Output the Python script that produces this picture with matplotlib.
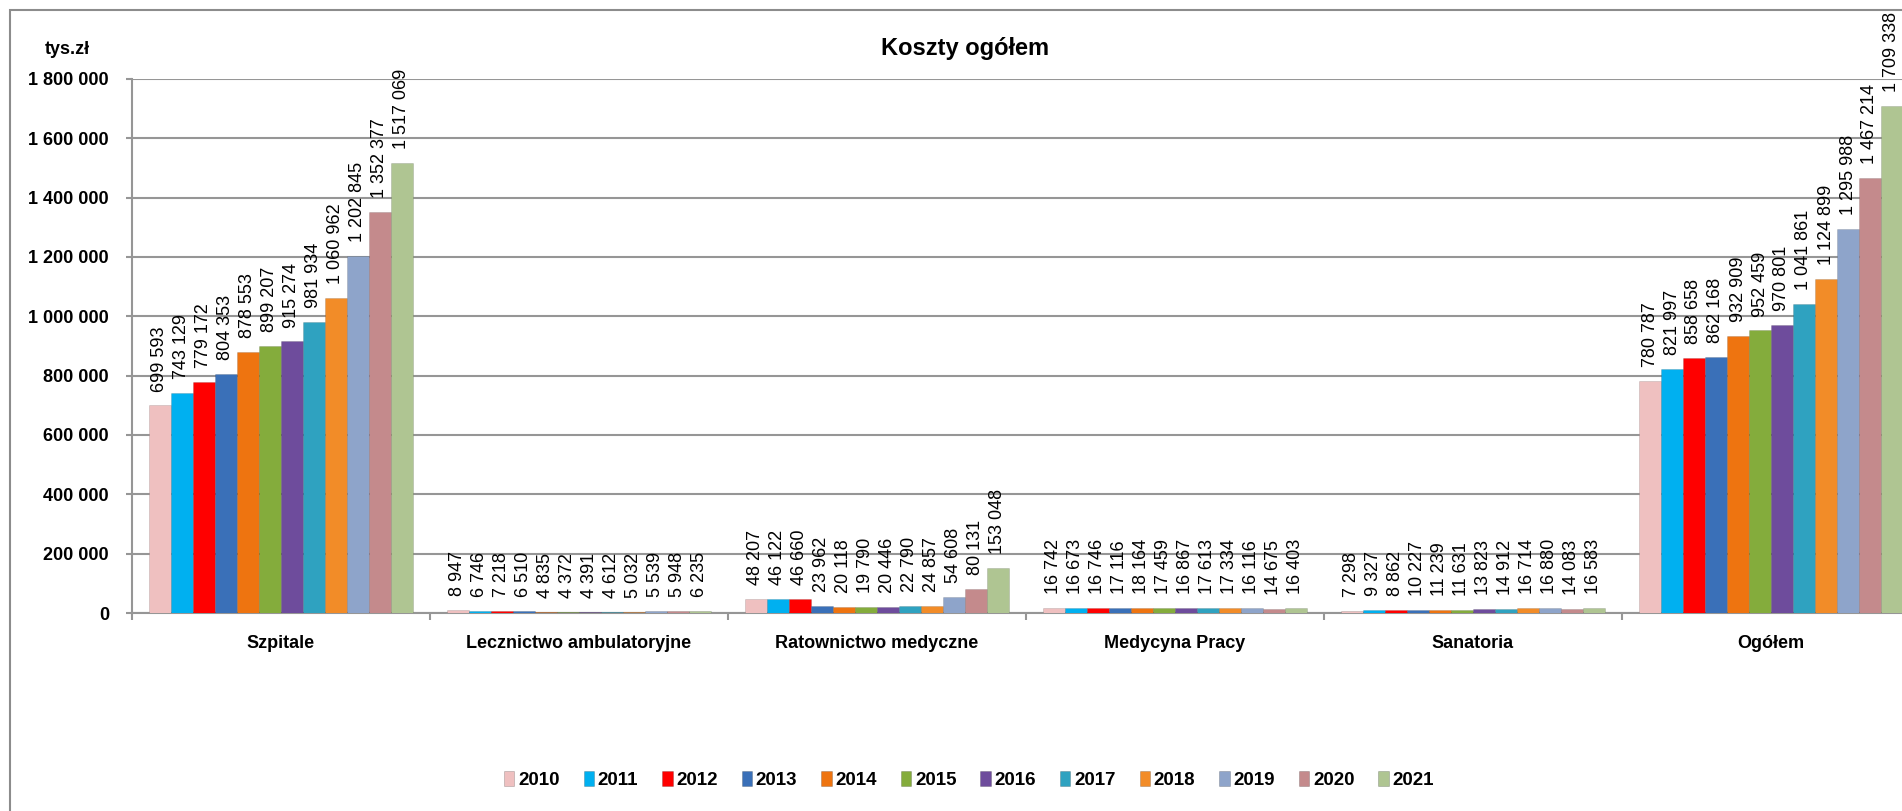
import numpy as np
import matplotlib
matplotlib.use("Agg")
import matplotlib.pyplot as plt
from matplotlib.patches import Rectangle, Patch
from matplotlib.ticker import FixedLocator, FuncFormatter

categories = ['Szpitale', 'Lecznictwo ambulatoryjne', 'Ratownictwo medyczne',
              'Medycyna Pracy', 'Sanatoria', 'Ogółem']
years = ['2010', '2011', '2012', '2013', '2014', '2015',
         '2016', '2017', '2018', '2019', '2020', '2021']

szpitale = [699593, 743129, 779172, 804353, 878553, 899207,
            915274, 981934, 1060962, 1202845, 1352377, 1517069]
lecznictwo = [8947, 6746, 7218, 6510, 4835, 4372,
              4391, 4612, 5032, 5539, 5948, 6235]
ratownictwo = [48207, 46122, 46660, 23962, 20118, 19790,
               20446, 22790, 24857, 54608, 80131, 153048]
medycyna = [16742, 16673, 16746, 17116, 18164, 17459,
            16867, 17613, 17334, 16116, 14675, 16403]
sanatoria = [7298, 9327, 8862, 10227, 11239, 11631,
             13823, 14912, 16714, 16880, 14083, 16583]
ogolem = [780787, 821997, 858658, 862168, 932909, 952459,
          970801, 1041861, 1124899, 1295988, 1467214, 1709338]

colors = ['#EFC0C0', '#00B0F0', '#FF0000', '#3A70B8', '#EE7410', '#84AC3C',
          '#6E4C9C', '#2FA2C0', '#F28C28', '#8EA4CA', '#C48A8C', '#AFC592']

data = np.array([szpitale, lecznictwo, ratownictwo, medycyna, sanatoria, ogolem])

W, H = 1902, 811
fig = plt.figure(figsize=(W / 100, H / 100), dpi=100)

# plot area runs a bit past the right edge, like in the source image
x0, x1, y0, y1 = 132, 1920, 79, 613
ax = fig.add_axes([x0 / W, 1 - y1 / H, (x1 - x0) / W, (y1 - y0) / H])

grey = '#969696'
font = 'Liberation Sans'

n = len(years)
bw = 264 / 298 / n
x = np.arange(len(categories))
for j, year in enumerate(years):
    pos = x - 0.5 + 17 / 298 + bw * (j + 0.5)
    vals = data[:, j]
    ax.bar(pos, vals, width=bw, color=colors[j], edgecolor='#00000022',
           linewidth=0.6, zorder=3)
    for px, v in zip(pos, vals):
        ax.annotate(f'{v:,}'.replace(',', ' '), (px, v), xytext=(0, 10),
                    textcoords='offset points', rotation=90, ha='center',
                    va='bottom', fontsize=13, family=font, color='black',
                    annotation_clip=False)

ax.set_xlim(-0.5, len(categories) - 0.5)
ax.set_ylim(0, 1800000)

ax.yaxis.set_major_locator(FixedLocator(np.arange(0, 1800001, 200000)))
ax.yaxis.set_major_formatter(FuncFormatter(lambda v, p: f'{int(v):,}'.replace(',', ' ')))
ax.grid(axis='y', color=grey, linewidth=1.5, zorder=0)

ax.set_xticks(x)
ax.set_xticklabels(categories)
ax.xaxis.set_minor_locator(FixedLocator(np.arange(-0.5, len(categories), 1.0)))
ax.tick_params(axis='x', which='major', length=0, pad=16)
ax.tick_params(axis='x', which='minor', length=5, width=1.5, color=grey)
ax.tick_params(axis='y', length=4.5, width=1.5, color=grey, pad=12)

for lab in ax.get_xticklabels() + ax.get_yticklabels():
    lab.set_fontfamily(font)
    lab.set_fontweight('bold')
    lab.set_fontsize(13)

for side in ['top', 'right']:
    ax.spines[side].set_visible(False)
for side in ['left', 'bottom']:
    ax.spines[side].set_color(grey)
    ax.spines[side].set_linewidth(1.5)

fig.text(965 / W, 1 - 48 / H, 'Koszty ogółem', ha='center', va='center',
         fontsize=17, fontweight='bold', family=font)
fig.text(67 / W, 1 - 50 / H, 'tys.zł', ha='center', va='center',
         fontsize=13, fontweight='bold', family=font)

handles = [Patch(facecolor=c, edgecolor='#00000033', linewidth=0.6) for c in colors]
fig.legend(handles, years, loc='center', bbox_to_anchor=(969 / W, 1 - 780 / H),
           ncol=n, frameon=False, handlelength=0.55, handleheight=0.8,
           handletextpad=0.2, columnspacing=1.28,
           prop={'family': font, 'weight': 'bold', 'size': 13.5})

# outer chart border (cut off at the right and bottom)
fig.patches.append(Rectangle((10 / W, -0.1), 1.2, 1 - 10 / H + 0.1,
                             transform=fig.transFigure, fill=False,
                             edgecolor='#8C8C8C', linewidth=1.5))

fig.savefig('out.png', dpi=100)
